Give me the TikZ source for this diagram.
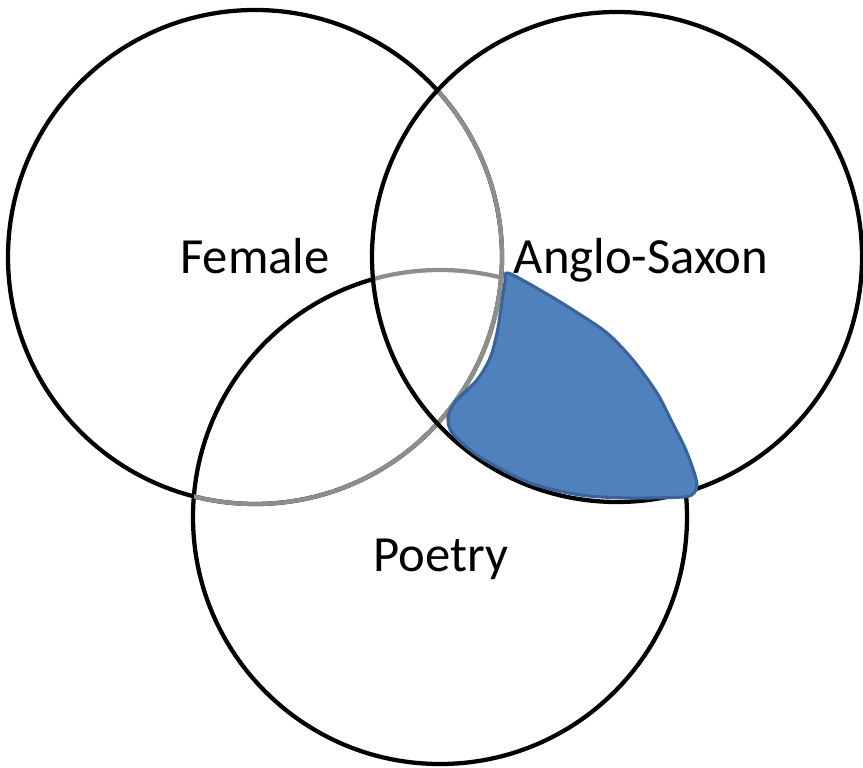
\documentclass[tikz,border=0pt]{standalone}
\usepackage{fontspec}
\setmainfont{Carlito}
\definecolor{venngray}{HTML}{8E8E8E}
\definecolor{vennblue}{HTML}{4F81BD}
\definecolor{vennedge}{HTML}{3A639A}
\begin{document}
\begin{tikzpicture}[x=0.75pt,y=0.75pt,
  ring/.style={line width=3.2pt},
  lbl/.style={anchor=base,inner sep=0pt,font=\fontsize{38}{40}\selectfont},
  shade/.style={fill=vennblue,draw=vennedge,line width=2.3pt,line join=round}]
\useasboundingbox (0,0) rectangle (863,767);
\coordinate (F) at (255,510);
\coordinate (A) at (617,510);
\coordinate (P) at (440,250);
\def\rF{247}\def\rA{245}\def\rP{247}
% Poetry circle (outside Anglo-Saxon: black)
\begin{scope}[even odd rule]
  \clip (-10,-10) rectangle (873,777) (A) circle (\rA);
  \draw[ring,black] (P) circle (\rP);
\end{scope}
% Female circle
\draw[ring,black] (F) circle (\rF);
\begin{scope}
  \clip (A) circle (\rA);
  \draw[ring,venngray] (F) circle (\rF);
\end{scope}
\begin{scope}
  \clip (P) circle (\rP);
  \draw[ring,venngray] (F) circle (\rF);
\end{scope}
\begin{scope}
  \clip (F) circle (\rF);
  \clip (A) circle (\rA);
  \draw[ring,venngray] (P) circle (\rP);
\end{scope}
% Anglo-Saxon circle
\draw[ring,black] (A) circle (\rA);
% shaded region: Anglo-Saxon and Poetry, not Female
\draw[shade] plot[smooth cycle,tension=0.5] coordinates {
  (508,494) (540,477) (573,457) (607,434) (633,407) (657,374) (672,345)
  (685,319) (694,295) (697,282) (694,274) (683,270) (630,269) (580,272)
  (530,284) (480,310) (453,333) (448,349) (455,365) (477,387) (490,409)
  (497,434) (501,459) (505,485)};
% labels
\node[lbl] (tF) at (255,493) {Female};
\node[lbl] (tA) at (641,493) {Anglo-Saxon};
\node[lbl] (tP) at (441,195) {Poetry};
\end{tikzpicture}
\end{document}
